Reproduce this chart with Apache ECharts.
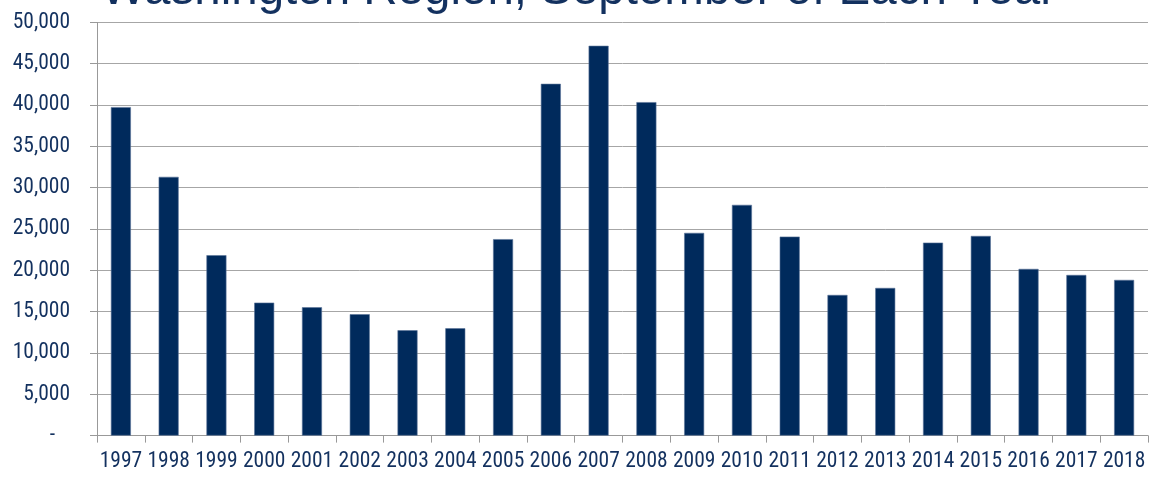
<!DOCTYPE html>
<html>
<head>
<meta charset="utf-8">
<script src="https://cdn.jsdelivr.net/npm/echarts@6/dist/echarts.min.js"></script>
<style>
html,body{margin:0;padding:0;background:#fff;}
#chart{width:1153px;height:479px;}
</style>
</head>
<body>
<div id="chart"></div>
<script>
var titleText = "Washington Region, September of Each Year";
var years = ["1997","1998","1999","2000","2001","2002","2003","2004","2005","2006","2007","2008","2009","2010","2011","2012","2013","2014","2015","2016","2017","2018"];
var values = [39750,31310,21830,16090,15530,14690,12750,12990,23770,42570,47170,40350,24530,27920,24080,17020,17870,23350,24160,20170,19440,18840];
var yTicks = [0,5000,10000,15000,20000,25000,30000,35000,40000,45000,50000];

var navy = "#002a5c";
var textNavy = "#13315f";
var labelFont = "'Roboto Condensed','Liberation Sans Narrow',sans-serif";
var chart = echarts.init(document.getElementById("chart"), null, {renderer:"canvas"});
chart.setOption({
  animation:false,
  backgroundColor:"#ffffff",
  graphic:[{
    type:"text",
    x:578.5,
    y:-33,
    style:{
      text:titleText,
      font:"47.5px 'Liberation Sans', Arial, sans-serif",
      fill:textNavy,
      textAlign:"center"
    }
  }],
  grid:{left:97,right:5,top:22.4,bottom:43.4,containLabel:false},
  xAxis:{
    type:"category",
    data:years,
    boundaryGap:true,
    axisLine:{show:true,lineStyle:{color:"#999999",width:1}},
    axisTick:{show:true,length:7,alignWithLabel:false,lineStyle:{color:"#999999"}},
    axisLabel:{
      margin:15,
      interval:0,
      color:textNavy,
      fontSize:21.5,
      fontFamily:labelFont
    }
  },
  yAxis:{
    type:"value",
    min:yTicks[0],
    max:yTicks[yTicks.length-1],
    interval:yTicks[1]-yTicks[0],
    axisLine:{show:true,lineStyle:{color:"#999999",width:1}},
    axisTick:{show:true,length:7,lineStyle:{color:"#999999"}},
    splitLine:{show:true,lineStyle:{color:"#a6a6a6",width:1}},
    axisLabel:{
      margin:27,
      color:textNavy,
      fontSize:21.5,
      fontFamily:labelFont,
      formatter:function(v){
        if(v===0) return "-   ";
        return v.toString().replace(/\B(?=(\d{3})+(?!\d))/g, ",");
      }
    }
  },
  series:[{
    type:"bar",
    data:values,
    barWidth:20,
    itemStyle:{color:navy,borderColor:"#5b7399",borderWidth:0.6}
  }]
});
</script>
</body>
</html>
